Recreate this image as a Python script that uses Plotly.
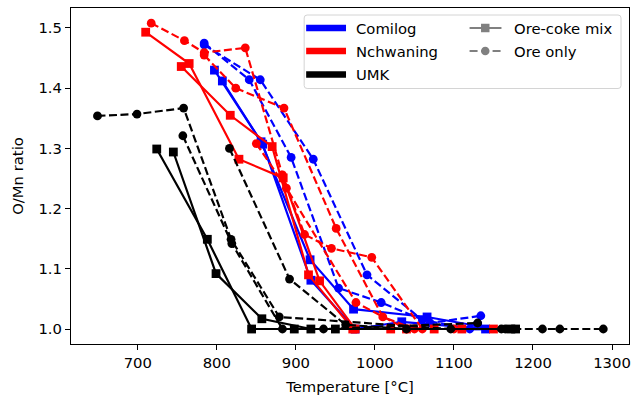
import plotly.graph_objects as go

# ---- Comilog: ore-coke mix (squares, solid) ----
comilog_mix_a_T = [797, 856, 918, 973, 1066, 1130]
comilog_mix_a_y = [1.430, 1.311, 1.115, 1.033, 1.020, 1.005]
comilog_mix_b_T = [807, 858, 919, 975, 1034, 1140]
comilog_mix_b_y = [1.412, 1.307, 1.081, 1.000, 1.012, 1.000]

# ---- Comilog: ore only (circles, dashed) ----
comilog_ore_a_T = [784, 841, 894, 954, 1008, 1070, 1134]
comilog_ore_a_y = [1.475, 1.414, 1.285, 1.068, 1.044, 1.010, 1.022]
comilog_ore_b_T = [784, 855, 922, 990, 1060, 1120]
comilog_ore_b_y = [1.472, 1.414, 1.282, 1.090, 1.015, 1.000]

# ---- Nchwaning: ore-coke mix ----
nchwaning_mix_a_T = [710, 765, 828, 884, 930, 975, 1040, 1110]
nchwaning_mix_a_y = [1.493, 1.441, 1.282, 1.251, 1.080, 1.000, 1.000, 1.000]
nchwaning_mix_b_T = [755, 817, 870, 916, 972, 1020, 1075, 1150]
nchwaning_mix_b_y = [1.436, 1.355, 1.303, 1.090, 1.000, 1.000, 1.000, 1.000]

# ---- Nchwaning: ore only ----
nchwaning_ore_a_T = [717, 759, 784, 836, 883, 911, 945, 996, 1060]
nchwaning_ore_a_y = [1.508, 1.479, 1.459, 1.467, 1.256, 1.157, 1.134, 1.119, 1.000]
nchwaning_ore_b_T = [784, 824, 885, 951, 1010, 1050]
nchwaning_ore_b_y = [1.455, 1.400, 1.367, 1.167, 1.020, 1.000]
nchwaning_ore_c_T = [850, 888, 976, 1040, 1100]
nchwaning_ore_c_y = [1.308, 1.234, 1.044, 1.000, 1.000]

# ---- UMK: ore-coke mix ----
umk_mix_a_T = [724, 788, 844, 898, 950, 1172]
umk_mix_a_y = [1.299, 1.149, 1.000, 1.000, 1.000, 1.000]
umk_mix_b_T = [745, 799, 857, 919, 1178]
umk_mix_b_y = [1.294, 1.092, 1.017, 1.000, 1.000]

# ---- UMK: ore only ----
umk_ore_a_T = [649, 699, 758, 818, 879, 1096, 1160, 1212, 1234, 1289]
umk_ore_a_y = [1.354, 1.357, 1.367, 1.149, 1.020, 1.000, 1.000, 1.000, 1.000, 1.000]
umk_ore_b_T = [757, 819, 883, 935, 1130]
umk_ore_b_y = [1.321, 1.142, 1.000, 1.000, 1.010]
umk_ore_c_T = [816, 892, 963, 1040, 1165]
umk_ore_c_y = [1.300, 1.083, 1.007, 1.000, 1.000]

ore_names = ["Comilog", "Nchwaning", "UMK"]
ore_colors = ["#0000ff", "#ff0000", "#000000"]
mix_names = ["Ore-coke mix", "Ore only"]

series = [
    (comilog_mix_a_T, comilog_mix_a_y, 0, True),
    (comilog_mix_b_T, comilog_mix_b_y, 0, True),
    (comilog_ore_a_T, comilog_ore_a_y, 0, False),
    (comilog_ore_b_T, comilog_ore_b_y, 0, False),
    (nchwaning_mix_a_T, nchwaning_mix_a_y, 1, True),
    (nchwaning_mix_b_T, nchwaning_mix_b_y, 1, True),
    (nchwaning_ore_a_T, nchwaning_ore_a_y, 1, False),
    (nchwaning_ore_b_T, nchwaning_ore_b_y, 1, False),
    (nchwaning_ore_c_T, nchwaning_ore_c_y, 1, False),
    (umk_mix_a_T, umk_mix_a_y, 2, True),
    (umk_mix_b_T, umk_mix_b_y, 2, True),
    (umk_ore_a_T, umk_ore_a_y, 2, False),
    (umk_ore_b_T, umk_ore_b_y, 2, False),
    (umk_ore_c_T, umk_ore_c_y, 2, False),
]

FONT = "DejaVu Sans"
FS = 14.8
DASH = "8px,3.5px"

fig = go.Figure()
for T, y, ore, is_mix in series:
    c = ore_colors[ore]
    fig.add_trace(go.Scatter(
        x=T, y=y, mode="lines+markers",
        line=dict(color=c, width=2.2, dash="solid" if is_mix else DASH),
        marker=dict(symbol="square" if is_mix else "circle", size=8.8, color=c),
        showlegend=False, hoverinfo="skip",
    ))

# plot-area geometry in pixels (used for the legend box drawn in paper units)
W, H = 633, 400
ML, MR, MT, MB = 71, 2, 8, 56
PW, PH = W - ML - MR, H - MT - MB


def px(x):
    return (x - ML) / PW


def py(y):
    return (H - MB - y) / PH


shapes = []
annotations = []

# legend frame with rounded corners
x0, x1, y0, y1, r = 305, 623, 15, 88.5, 3
rx, ry = r / PW, r / PH
path = (
    f"M {px(x0)+rx},{py(y0)} L {px(x1)-rx},{py(y0)} Q {px(x1)},{py(y0)} {px(x1)},{py(y0)-ry} "
    f"L {px(x1)},{py(y1)+ry} Q {px(x1)},{py(y1)} {px(x1)-rx},{py(y1)} "
    f"L {px(x0)+rx},{py(y1)} Q {px(x0)},{py(y1)} {px(x0)},{py(y1)+ry} "
    f"L {px(x0)},{py(y0)-ry} Q {px(x0)},{py(y0)} {px(x0)+rx},{py(y0)} Z"
)
shapes.append(dict(type="path", xref="paper", yref="paper", path=path,
                   line=dict(color="#d4d4d4", width=1),
                   fillcolor="rgba(255,255,255,0.8)", layer="above"))

rows = [28, 51, 74.5]
for i, name in enumerate(ore_names):
    shapes.append(dict(type="line", xref="paper", yref="paper",
                       x0=px(307), x1=px(347), y0=py(rows[i]), y1=py(rows[i]),
                       line=dict(color=ore_colors[i], width=6.5), layer="above"))
    annotations.append(dict(text=name, xref="paper", yref="paper",
                            x=px(355), y=py(rows[i]), xanchor="left", yanchor="middle",
                            showarrow=False, font=dict(family=FONT, size=FS, color="black")))

gray = "#808080"
for i, name in enumerate(mix_names):
    yy = rows[i]
    shapes.append(dict(type="line", xref="paper", yref="paper",
                       x0=px(471), x1=px(503), y0=py(yy), y1=py(yy),
                       line=dict(color=gray, width=2.2, dash="solid" if i == 0 else DASH),
                       layer="above"))
    if i == 0:
        shapes.append(dict(type="rect", xref="paper", yref="paper",
                           x0=px(482.5), x1=px(491), y0=py(yy - 4.25), y1=py(yy + 4.25),
                           line=dict(width=0), fillcolor=gray, layer="above"))
    else:
        shapes.append(dict(type="circle", xref="paper", yref="paper",
                           x0=px(482.5), x1=px(491), y0=py(yy - 4.25), y1=py(yy + 4.25),
                           line=dict(width=0), fillcolor=gray, layer="above"))
    annotations.append(dict(text=name, xref="paper", yref="paper",
                            x=px(514), y=py(yy), xanchor="left", yanchor="middle",
                            showarrow=False, font=dict(family=FONT, size=FS, color="black")))

axis_common = dict(
    showline=True, mirror=True, linecolor="black", linewidth=1.1,
    ticks="outside", ticklen=5, tickwidth=1.1, tickcolor="black",
    showgrid=False, zeroline=False,
    tickfont=dict(family=FONT, size=FS, color="black"),
)

fig.update_layout(
    width=W, height=H,
    margin=dict(l=ML, r=MR, t=MT, b=MB),
    paper_bgcolor="white", plot_bgcolor="white",
    font=dict(family=FONT, size=FS, color="black"),
    xaxis=dict(range=[615.5, 1321.5], dtick=100, tick0=0,
               title=dict(text="Temperature [°C]", font=dict(family=FONT, size=FS), standoff=11),
               **axis_common),
    yaxis=dict(range=[0.9751, 1.5332], dtick=0.1, tick0=0, tickformat=".1f",
               title=dict(text="O/Mn ratio", font=dict(family=FONT, size=FS), standoff=11),
               **axis_common),
    shapes=shapes,
    annotations=annotations,
)

fig.write_html("out.html")
